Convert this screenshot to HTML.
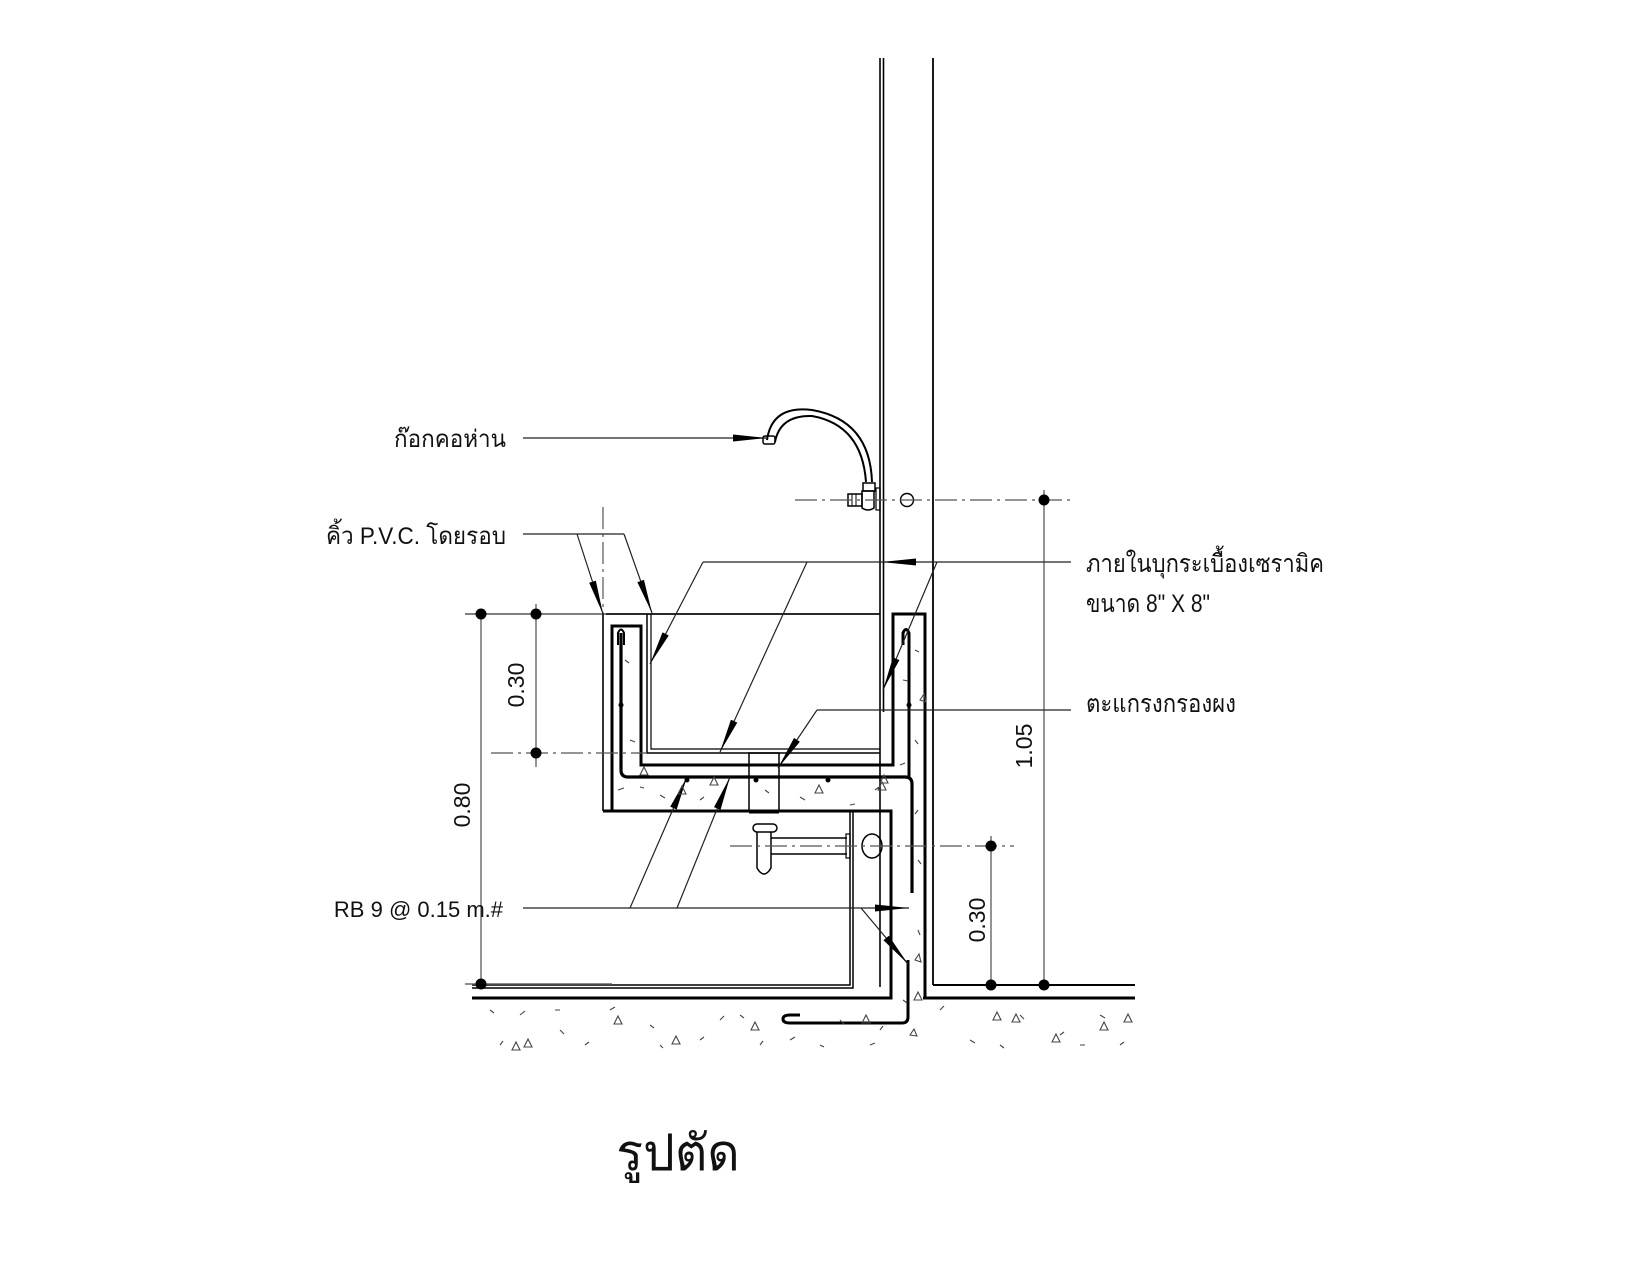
<!DOCTYPE html>
<html><head><meta charset="utf-8"><style>
html,body{margin:0;padding:0;background:#fff}
svg{display:block}
text{font-family:"Liberation Sans","DejaVu Sans",sans-serif;fill:#111}
</style></head><body>
<svg width="1650" height="1275" viewBox="0 0 1650 1275" xmlns="http://www.w3.org/2000/svg">
<defs>
<marker id="ar" markerWidth="40" markerHeight="10" refX="34" refY="5" orient="auto" markerUnits="userSpaceOnUse">
<path d="M0,1.5 L34,5 L0,8.5 Z" fill="#000"/></marker>
</defs>
<g fill="none" stroke="#000">
<line x1="880" y1="58" x2="880" y2="987" stroke-width="1.6"/>
<line x1="883.5" y1="58" x2="883.5" y2="712" stroke-width="1.6"/>
<line x1="933" y1="58" x2="933" y2="985" stroke-width="1.8"/>
<line x1="933" y1="985" x2="1135" y2="985" stroke-width="2"/>
<line x1="923" y1="998" x2="1135" y2="998" stroke-width="3"/>
<line x1="465" y1="614" x2="880" y2="614" stroke-width="1.4" stroke="#555"/>
<line x1="606" y1="614" x2="880" y2="614" stroke-width="1.6"/>
<line x1="603" y1="507" x2="603" y2="614" stroke-width="1.2" stroke="#555" stroke-dasharray="22,5,3,5"/>
<path d="M603 614 V811" stroke-width="1.6"/>
<path d="M612 811 V626 H641 V765 H893 V614 H925 V998" stroke-width="3"/>
<path d="M603 811 H891 V998 H472" stroke-width="3"/>
<path d="M647 614 V753 H880" stroke-width="1.5"/>
<path d="M651 614 V749 H880" stroke-width="1.2"/>
<path d="M472 985 H850 V811" stroke-width="1.5"/>
<path d="M472 988 H853 V811" stroke-width="1.5"/>
<path d="M621 633 V770 Q621 777 628 777 H905 Q912 777 912 784 V893" stroke-width="3.2"/>
<path d="M618 645 V633 Q621 626 624 633 V645" stroke-width="2"/>
<path d="M909 777 V633 Q906 626 903 633 V645" stroke-width="3"/>
<path d="M908 960 V1017 Q908 1023 902 1023 H790 Q783 1023 783 1019 Q783 1015 790 1015 H800" stroke-width="3"/>
<rect x="749" y="753" width="30" height="58" stroke-width="1.5"/>
<line x1="749" y1="812" x2="779" y2="812" stroke-width="3"/>
<rect x="753" y="824" width="24" height="8" rx="4" stroke-width="1.5"/>
<path d="M757 832 V868 Q764 880 771 868 V832" stroke-width="1.5"/>
<path d="M771 838 H847 M771 854 H847" stroke-width="1.5"/>
<rect x="846" y="834" width="4" height="24" stroke-width="1.2"/>
<ellipse cx="872" cy="846" rx="10" ry="12" stroke-width="1.5"/>
<line x1="730" y1="846" x2="1014" y2="846" stroke="#555" stroke-width="1.3" stroke-dasharray="22,5,3,5"/>
<line x1="491" y1="753" x2="647" y2="753" stroke="#555" stroke-width="1.3" stroke-dasharray="22,5,3,5"/>
<path d="M767 440 Q772 405 812 410 Q870 420 872 482" stroke-width="2"/>
<path d="M775 442 Q780 415 812 416 Q862 425 866 482" stroke-width="2"/>
<rect x="763" y="436" width="12" height="8" rx="2" stroke-width="1.5"/>
<rect x="863" y="483" width="12" height="8" stroke-width="1.5"/>
<path d="M862 491 H874 V508 Q868 512 862 508 Z" stroke-width="1.5"/>
<rect x="848" y="494" width="14" height="12" stroke-width="1.5"/>
<line x1="852" y1="494" x2="852" y2="506" stroke-width="1"/>
<line x1="856" y1="494" x2="856" y2="506" stroke-width="1"/>
<rect x="876" y="488" width="4" height="22" stroke-width="1.2"/>
<circle cx="907" cy="500" r="6.5" stroke-width="1.4"/>
<line x1="795" y1="500" x2="1070" y2="500" stroke="#555" stroke-width="1.3" stroke-dasharray="22,5,3,5"/>
<g stroke="#666" stroke-width="1.4">
<line x1="481" y1="614" x2="481" y2="984"/>
<line x1="536" y1="604" x2="536" y2="767"/>
<line x1="465" y1="984" x2="612" y2="984"/>
<line x1="991" y1="836" x2="991" y2="985"/>
<line x1="1044" y1="490" x2="1044" y2="985"/>
</g>
<g stroke="#222" stroke-width="1.2">
<line x1="523" y1="438" x2="767" y2="438" marker-end="url(#ar)"/>
<polyline points="523,534 624,534"/>
<line x1="577" y1="534" x2="603" y2="614" marker-end="url(#ar)"/>
<line x1="624" y1="534" x2="652" y2="613" marker-end="url(#ar)"/>
<line x1="1071" y1="562" x2="882" y2="562" marker-end="url(#ar)"/>
<line x1="703" y1="562" x2="882" y2="562"/>
<line x1="703" y1="562" x2="650" y2="664" marker-end="url(#ar)"/>
<line x1="807" y1="562" x2="720" y2="752" marker-end="url(#ar)"/>
<line x1="937" y1="562" x2="883" y2="690" marker-end="url(#ar)"/>
<line x1="1071" y1="710" x2="817" y2="710"/>
<line x1="817" y1="710" x2="778" y2="768" marker-end="url(#ar)"/>
<line x1="523" y1="908" x2="909" y2="908" marker-end="url(#ar)"/>
<line x1="630" y1="908" x2="687" y2="777" marker-end="url(#ar)"/>
<line x1="677" y1="908" x2="730" y2="777" marker-end="url(#ar)"/>
<line x1="861" y1="908" x2="908" y2="964" marker-end="url(#ar)"/>
</g>
</g>
<g fill="#000">
<circle cx="481" cy="614" r="5.5"/><circle cx="536" cy="614" r="5.5"/>
<circle cx="536" cy="753" r="5.5"/><circle cx="481" cy="984" r="5.5"/>
<circle cx="991" cy="846" r="5.5"/><circle cx="991" cy="985" r="5.5"/>
<circle cx="1044" cy="500" r="5.5"/><circle cx="1044" cy="985" r="5.5"/>
<circle cx="621" cy="705" r="2.5"/><circle cx="909" cy="705" r="2.5"/>
<circle cx="687" cy="780" r="2.5"/><circle cx="756" cy="780" r="2.5"/><circle cx="828" cy="780" r="2.5"/>
</g>
<g stroke="#444" stroke-width="1.1" fill="none">
<path d="M625 660 l4 3 M630 740 l5 2 M618 790 l6 -2 M660 795 l5 3 M700 800 l4 -3 M800 797 l5 3 M850 805 l5 -1 M875 790 l4 -3 M915 650 l4 2 M903 680 l5 1 M915 740 l3 4 M918 810 l-3 4 M918 860 l3 4 M918 930 l2 5 M903 1000 l4 3 M640 787 l4 1 M765 790 l4 3 M900 765 l5 -2"/>
<path d="M640 775 l4 -8 l4 8 z M678 794 l4 -8 l4 8 z M710 785 l4 -8 l4 8 z M815 793 l4 -8 l4 8 z M878 790 l4 -8 l4 8 z M880 783 l4 -8 l4 8 z M920 700 l4 -6 l2 8 z M915 960 l4 -6 l2 8z M914 1000 l4 -8 l4 8 z"/>
<path d="M490 1010 l4 3 M520 1015 l5 -4 M560 1030 l4 4 M610 1010 l5 -3 M650 1025 l4 3 M700 1040 l4 -3 M740 1015 l4 3 M790 1040 l5 -3 M840 1020 l4 4 M870 1045 l5 -2 M940 1010 l4 -4 M970 1040 l5 3 M1020 1015 l4 4 M1060 1035 l4 -3 M1100 1015 l5 3 M1120 1045 l4 -3 M500 1045 l3 -4 M585 1045 l4 -3 M660 1045 l3 3 M720 1020 l4 -4 M820 1045 l4 2 M880 1030 l3 -4 M1000 1045 l4 3 M1080 1045 l5 0 M555 1010 l5 0 M760 1045 l3 -4"/>
<path d="M512 1050 l4 -8 l4 8 z M524 1047 l4 -8 l4 8 z M614 1024 l4 -8 l4 8 z M672 1044 l4 -8 l4 8 z M751 1030 l4 -8 l4 8 z M862 1023 l4 -8 l4 8 z M993 1020 l4 -8 l4 8 z M1012 1022 l4 -8 l4 8 z M1052 1042 l4 -8 l4 8 z M1100 1030 l4 -8 l4 8 z M1124 1022 l4 -8 l4 8 z M910 1035 l4 -6 l3 7 z"/>
</g>
<text x="394" y="447" font-size="24" textLength="112" lengthAdjust="spacingAndGlyphs">ก๊อกคอห่าน</text>
<text x="326" y="544" font-size="24" textLength="180" lengthAdjust="spacingAndGlyphs">คิ้ว P.V.C. โดยรอบ</text>
<text x="1086" y="572" font-size="25" textLength="238" lengthAdjust="spacingAndGlyphs">ภายในบุกระเบื้องเซรามิค</text>
<text x="1086" y="612" font-size="25" textLength="124" lengthAdjust="spacingAndGlyphs">ขนาด 8" X 8"</text>
<text x="1086" y="712" font-size="25" textLength="150" lengthAdjust="spacingAndGlyphs">ตะแกรงกรองผง</text>
<text x="503" y="917" font-size="22" text-anchor="end">RB 9 @ 0.15 m.#</text>
<text x="678" y="1170" font-size="50" text-anchor="middle">รูปตัด</text>
<text font-size="23" text-anchor="middle" transform="translate(524,685) rotate(-90)">0.30</text>
<text font-size="23" text-anchor="middle" transform="translate(470,805) rotate(-90)">0.80</text>
<text font-size="23" text-anchor="middle" transform="translate(1032,746) rotate(-90)">1.05</text>
<text font-size="23" text-anchor="middle" transform="translate(985,920) rotate(-90)">0.30</text>
</svg>
</body></html>
